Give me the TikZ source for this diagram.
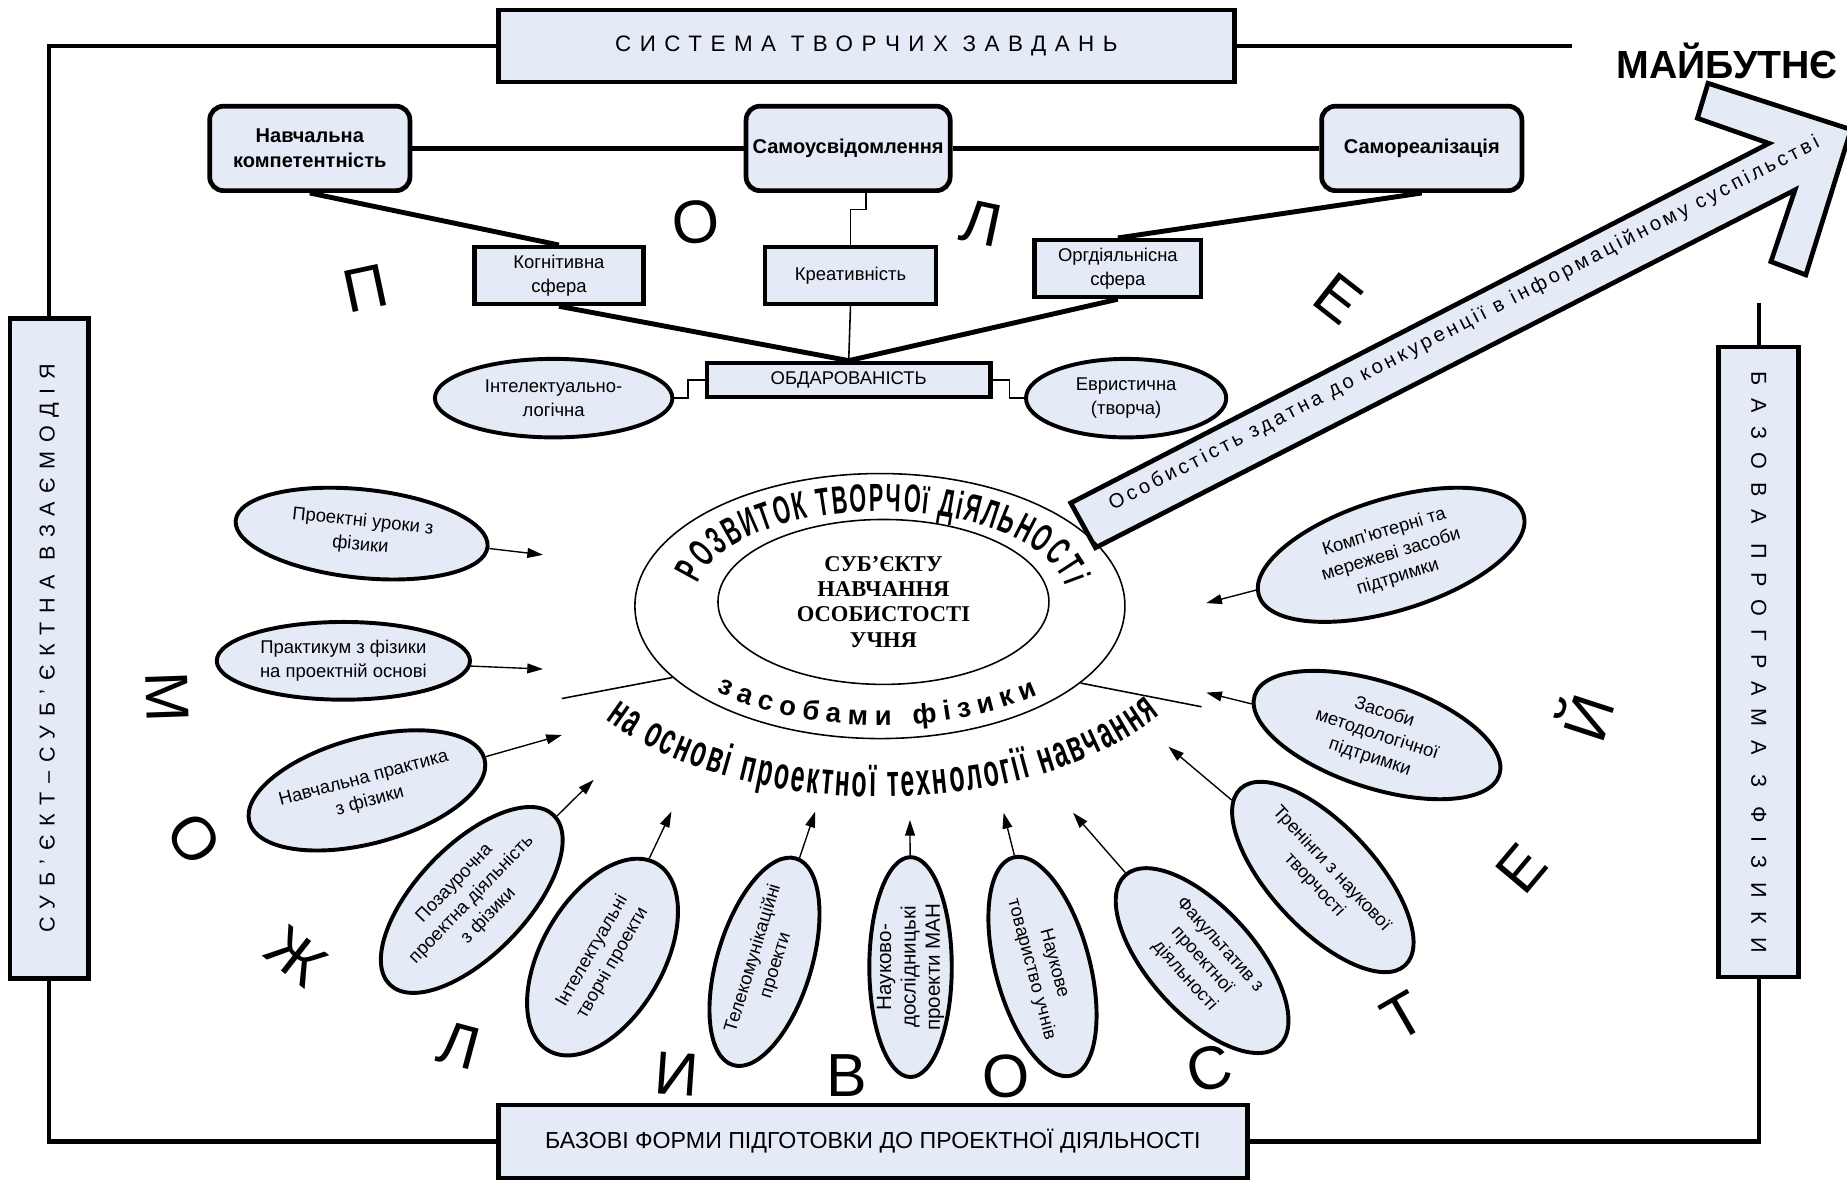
\documentclass[tikz,border=0pt]{standalone}
\usepackage{fontspec}
\setmainfont{Liberation Sans}
\newfontfamily\timesbf{Liberation Serif}
\newfontfamily\arcfont[FakeStretch=0.55]{Liberation Sans}
\usetikzlibrary{shapes.geometric,arrows.meta,decorations.text}
\definecolor{paleblue}{RGB}{228,234,246}

\begin{document}
\begin{tikzpicture}[x=0.6pt, y=-0.6pt,
    rbox/.style={draw, line width=2.4pt, fill=paleblue, rounded corners=7pt, minimum width=102pt, minimum height=43pt, align=center, font=\bfseries\fontsize{10.2}{12.7}\selectfont},
    sbox/.style={draw, line width=2.2pt, fill=paleblue, minimum height=29pt, align=center, font=\fontsize{9.4}{12}\selectfont},
    oval/.style={ellipse, draw, line width=2pt, fill=paleblue, align=center, inner sep=-5pt, font=\fontsize{9.4}{12}\selectfont},
    bar/.style={draw, line width=2.4pt, fill=paleblue, inner sep=0pt},
    letter/.style={inner sep=0pt, font=\fontsize{31}{31}\selectfont},
    link/.style={line width=2.5pt},
    thinlink/.style={line width=0.8pt},
    frame/.style={line width=2.2pt},
    arr/.style={line width=0.7pt, -{Triangle[length=8pt,width=5pt]}}]
    \useasboundingbox (0,0) rectangle (1568,1001);

    \node[bar, minimum width=375pt, minimum height=36.6pt, font=\fontsize{11.4}{13}\selectfont\addfontfeature{LetterSpace=38}] (sys) at (735.5,39) {СИСТЕМА ТВОРЧИХ ЗАВДАНЬ};
    \node[bar, minimum width=40pt, minimum height=336pt, font=\fontsize{11}{13}\selectfont\addfontfeature{LetterSpace=40}] (subj) at (41.75,550.4) {\rotatebox{90}{СУБ'ЄКТ–СУБ'ЄКТНА ВЗАЄМОДІЯ}};
    \node[bar, minimum width=40.8pt, minimum height=321pt, font=\fontsize{11}{13}\selectfont\addfontfeature{LetterSpace=62}] (prog) at (1493,562) {\rotatebox{-90}{БАЗОВА ПРОГРАМА З ФІЗИКИ}};
    \node[bar, minimum width=381.6pt, minimum height=37.2pt, font=\fontsize{11.8}{13}\selectfont] (base) at (741,969) {БАЗОВІ ФОРМИ ПІДГОТОВКИ ДО ПРОЕКТНОЇ ДІЯЛЬНОСТІ};
    \coordinate (sysend) at (1334.6,39);
    \coordinate (progend) at (1493,257.6);
    \draw[frame] (sys.west) -| (subj.north);
    \draw[frame] (sys.east) -- (sysend);
    \draw[frame] (subj.south) |- (base.west);
    \draw[frame] (base.east) -| (prog.south);
    \draw[frame] (prog.north) -- (progend);

    \node[font=\bfseries\fontsize{20}{20}\selectfont, inner sep=0pt, anchor=base west] (future) at (1372,66.5) {МАЙБУТНЄ};
    \draw[line width=2.4pt, fill=paleblue] (909,427) -- (1501.7,121.7) -- (1441,100.4) -- (1450,70.7) -- (1571.4,110) -- (1533,233.4) -- (1503.4,222.1) -- (1523.8,161.3) -- (930,465) -- cycle;
    \node[rotate=27.2, inner sep=0pt, font=\fontsize{10.3}{11}\selectfont\addfontfeature{LetterSpace=17}] (fut) at (1243,275) {Особистість здатна до конкуренції в інформаційному суспільстві};

    \node[rbox] (nk) at (263,126) {Навчальна\\компетентність};
    \node[rbox] (samo) at (720,126) {Самоусвідомлення};
    \node[rbox] (samor) at (1207,126) {Самореалізація};
    \node[sbox, minimum width=86pt] (cog) at (474.5,234) {Когнітивна\\сфера};
    \node[sbox, minimum width=87pt] (kreat) at (722,234) {Креативність};
    \node[sbox, minimum width=85pt] (org) at (949,228) {Оргдіяльнісна\\сфера};
    \node[sbox, minimum width=144.6pt, minimum height=17.4pt, inner sep=1pt] (obd) at (720.5,322.5) {ОБДАРОВАНІСТЬ};
    \node[oval, minimum width=121pt, minimum height=40pt] (intel) at (470,338) {Інтелектуально-\\логічна};
    \node[oval, minimum width=102pt, minimum height=40pt] (heur) at (956,338) {Евристична\\(творча)};
    \draw[link] (nk) -- (samo);
    \draw[link] (samo) -- (samor);
    \draw[link] (nk.south) -- (cog.north);
    \draw[link] (samor.south) -- (org.north);
    \draw[thinlink] ([xshift=9pt]samo.south) -- ++(0,14) -| (kreat.north);
    \draw[link] (cog.south) -- (obd.north);
    \draw[link] (org.south) -- (obd.north);
    \draw[thinlink] (kreat.south) -- (obd.north);
    \draw[thinlink] (obd.west) -- ++(-14,0) |- (intel.east);
    \draw[thinlink] (obd.east) -- ++(14,0) |- (heur.west);

    \node[ellipse, draw, line width=0.8pt, minimum width=249.6pt, minimum height=135pt] (dev) at (747,514.5) {};
    \node[ellipse, draw, line width=0.8pt, minimum width=168.6pt, minimum height=84pt, align=center, font=\timesbf\bfseries\fontsize{11.5}{12.8}\selectfont] (core) at (750,511) {СУБ’ЄКТУ\\НАВЧАННЯ\\ОСОБИСТОСТІ\\УЧНЯ};
    \coordinate (ltail) at (477,593);
    \coordinate (rtail) at (1020,600);
    \draw[thinlink] (dev.199) -- (ltail);
    \draw[thinlink] (dev.339) -- (rtail);
    \path[decorate, decoration={text along path, text align={fit to path}, text={|\arcfont\bfseries\fontsize{20}{20}\selectfont|РОЗВИТОК ТВОРЧОї ДіЯЛЬНОСТі}}] (592.4,495.2) arc[start angle=190, end angle=352, x radius=158, y radius=74];
    \path[decorate, decoration={text along path, text align={fit to path}, text={|\bfseries\fontsize{14}{14}\selectfont|засобами фізики}}] (608.1,587.2) arc[start angle=134, end angle=48, x radius=200, y radius=101];
    \path[decorate, decoration={text along path, text align={fit to path}, text={|\arcfont\bfseries\fontsize{23}{23}\selectfont|на основі проектної технології навчання}}] (514.2,611.1) arc[start angle=143.4, end angle=34.9, x radius=290, y radius=162];

    \node[oval, rotate=-6, minimum width=129pt, minimum height=45pt] (pu) at (307,453) {Проектні уроки з\\фізики};
    \node[oval, minimum width=129pt, minimum height=39.6pt] (pr) at (291.5,561) {Практикум з фізики\\на проектній основі};
    \node[oval, rotate=15, minimum width=124pt, minimum height=54pt] (np) at (311.5,671) {Навчальна практика\\з фізики};
    \node[oval, rotate=46, minimum width=120pt, minimum height=56pt] (pz) at (400.5,764) {Позаурочна\\проектна діяльність\\з фізики};
    \node[oval, rotate=60, minimum width=110pt, minimum height=62pt] (it) at (511.5,812.5) {Інтелектуальні\\творчі проекти};
    \node[oval, rotate=73, minimum width=110pt, minimum height=48pt] (tk) at (649,816.5) {Телекомунікаційні\\проекти};
    \node[oval, rotate=90, minimum width=112pt, minimum height=42pt, font=\fontsize{10.5}{12.4}\selectfont] (nd) at (773,821) {Науково-\\дослідницькі\\проекти МАН};
    \node[oval, rotate=-75, minimum width=115pt, minimum height=48pt] (nt) at (885,820.5) {Наукове\\товариство учнів};
    \node[oval, rotate=-48, minimum width=117pt, minimum height=54pt] (fk) at (1020.5,815.5) {Факультатив з\\проектної\\діяльності};
    \node[oval, rotate=-47, minimum width=123pt, minimum height=53pt] (tr) at (1123,744.5) {Тренінги з наукової\\творчості};
    \node[oval, rotate=-18, minimum width=131pt, minimum height=54pt] (zm) at (1169,624) {Засоби\\методологічної\\підтримки};
    \node[oval, rotate=17, minimum width=141pt, minimum height=57pt] (km) at (1181,471) {Комп’ютерні та\\мережеві засоби\\підтримки};
    \coordinate (pu-t) at (461,471);
    \coordinate (pr-t) at (461,568);
    \coordinate (np-t) at (477,624);
    \coordinate (pz-t) at (504,662);
    \coordinate (it-t) at (570,689);
    \coordinate (tk-t) at (692,689);
    \coordinate (nd-t) at (772.5,696);
    \coordinate (nt-t) at (852,690);
    \coordinate (fk-t) at (911,690);
    \coordinate (tr-t) at (992,634);
    \coordinate (zm-t) at (1024,588);
    \coordinate (km-t) at (1024,512);
    \draw[arr] (pu) -- (pu-t);
    \draw[arr] (pr) -- (pr-t);
    \draw[arr] (np) -- (np-t);
    \draw[arr] (pz) -- (pz-t);
    \draw[arr] (it) -- (it-t);
    \draw[arr] (tk) -- (tk-t);
    \draw[arr] (nd) -- (nd-t);
    \draw[arr] (nt) -- (nt-t);
    \draw[arr] (fk) -- (fk-t);
    \draw[arr] (tr) -- (tr-t);
    \draw[arr] (zm) -- (zm-t);
    \draw[arr] (km) -- (km-t);

    \node[letter, rotate=12] (p1) at (310,245) {П};
    \node[letter, rotate=6] (o1) at (590.5,188.5) {О};
    \node[letter, rotate=-12] (l1) at (833,190) {Л};
    \node[letter, rotate=-38] (e1) at (1136,253) {Е};
    \node[letter, rotate=-88] (m2) at (142,592) {М};
    \node[letter, rotate=-55] (o2) at (165,712) {О};
    \node[letter, rotate=-38] (zh2) at (252,812) {Ж};
    \node[letter, rotate=-15] (l2) at (390,888) {Л};
    \node[letter, rotate=-4] (y2) at (574.5,911.5) {И};
    \node[letter] (v2) at (718.5,913) {В};
    \node[letter, rotate=3] (o3) at (854,914) {О};
    \node[letter, rotate=15] (s2) at (1027,907) {С};
    \node[letter, rotate=30] (t2) at (1191,863) {Т};
    \node[letter, rotate=50] (e2) at (1292,737) {Е};
    \node[letter, rotate=72] (j2) at (1344,608) {Й};
\end{tikzpicture}
\end{document}
